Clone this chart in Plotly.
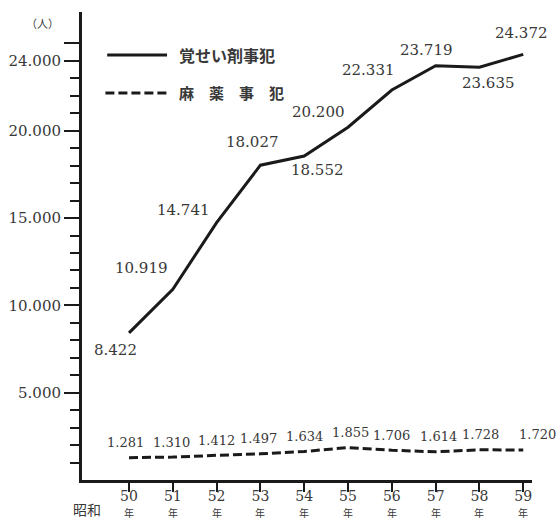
import plotly.graph_objects as go

# ---- data ----
years = [50, 51, 52, 53, 54, 55, 56, 57, 58, 59]
year_labels = ["50", "51", "52", "53", "54", "55", "56", "57", "58", "59"]
year_suffix = "年"
stimulant = [8422, 10919, 14741, 18027, 18552, 20200, 22331, 23719, 23635, 24372]
narcotics = [1281, 1310, 1412, 1497, 1634, 1855, 1706, 1614, 1728, 1720]
series_names = ["覚せい剤事犯", "麻　薬　事　犯"]
y_major = [5000, 10000, 15000, 20000, 24000, 25000]
y_major_text = ["5.000", "10.000", "15.000", "20.000", "24.000", ""]
y_minor = [v for v in range(1000, 26000, 1000) if v not in y_major]

# ---- label offsets (layout only) ----
stim_dx = [-14, -31, -33, -8, 13, -30, -23, -9, 9, -2]
stim_dy = [-17, 21, 13, 23, -14, 15, 20, 16, -16, 21]
narc_dx = [-4, -1, 0, -2, 0, 2, 0, 3, 1, 14]
narc_dy = [15] * 10

def fmt(v):
    return f"{v:,}".replace(",", ".")

INK = "#1a1a1a"
TXT = "#383838"
NUMFONT = "DejaVu Serif"
JPFONT = "Noto Sans CJK JP"

fig = go.Figure()
fig.add_trace(go.Scatter(x=years, y=stimulant, mode="lines", name=series_names[0],
                         line=dict(color=INK, width=3), showlegend=False))
fig.add_trace(go.Scatter(x=years, y=narcotics, mode="lines", name=series_names[1],
                         line=dict(color=INK, width=3, dash="9px,4px"), showlegend=False))

ann = []
for x, v, dx, dy in zip(years, stimulant, stim_dx, stim_dy):
    ann.append(dict(x=x, y=v, xref="x", yref="y", text=fmt(v), showarrow=False,
                    xshift=dx, yshift=dy, font=dict(family=NUMFONT, size=15, color=TXT)))
for x, v, dx, dy in zip(years, narcotics, narc_dx, narc_dy):
    ann.append(dict(x=x, y=v, xref="x", yref="y", text=fmt(v), showarrow=False,
                    xshift=dx, yshift=dy, font=dict(family=NUMFONT, size=13, color=TXT)))

# "年" under each year number
for x in years:
    ann.append(dict(x=x, y=-0.069, xref="x", yref="paper", text=year_suffix, showarrow=False,
                    xanchor="center", yanchor="middle",
                    font=dict(family=JPFONT, size=10, color=TXT)))

# axis units / era label
ann.append(dict(x=-0.087, y=0.977, xref="paper", yref="paper", text="（人）", showarrow=False,
                xanchor="center", yanchor="middle",
                font=dict(family=JPFONT, size=11, color=TXT)))
ann.append(dict(x=0.011, y=-0.062, xref="paper", yref="paper", text="昭和", showarrow=False,
                xanchor="center", yanchor="middle",
                font=dict(family=JPFONT, size=14, color=TXT)))

# legend (drawn)
leg_y = [0.908, 0.827]
ann.append(dict(x=0.211, y=leg_y[0], xref="paper", yref="paper", text="<b>" + series_names[0] + "</b>",
                showarrow=False, xanchor="left", yanchor="middle",
                font=dict(family=JPFONT, size=16, color=TXT)))
ann.append(dict(x=0.211, y=leg_y[1], xref="paper", yref="paper", text="<b>" + series_names[1] + "</b>",
                showarrow=False, xanchor="left", yanchor="middle",
                font=dict(family=JPFONT, size=15, color=TXT)))
shapes = [
    dict(type="line", xref="paper", yref="paper", x0=0.056, x1=0.189, y0=leg_y[0], y1=leg_y[0],
         line=dict(color=INK, width=3)),
    dict(type="line", xref="paper", yref="paper", x0=0.052, x1=0.189, y0=leg_y[1], y1=leg_y[1],
         line=dict(color=INK, width=3, dash="9px,4px")),
]

fig.update_layout(
    width=557, height=519,
    margin=dict(l=82, r=25, t=12, b=39, autoexpand=False),
    paper_bgcolor="white", plot_bgcolor="white",
    annotations=ann, shapes=shapes,
    xaxis=dict(range=[48.927, 59.2], showgrid=False, zeroline=False, automargin=False,
               showline=True, linecolor=INK, linewidth=3,
               ticks="outside", ticklen=9, tickwidth=2, tickcolor=INK,
               tickvals=years, ticktext=year_labels, ticklabelstandoff=-8,
               tickfont=dict(family=NUMFONT, size=14, color=TXT)),
    yaxis=dict(range=[0, 26800], showgrid=False, zeroline=False, automargin=False,
               showline=True, linecolor=INK, linewidth=3,
               ticks="outside", ticklen=15, tickwidth=2, tickcolor=INK,
               tickvals=y_major, ticktext=y_major_text,
               tickfont=dict(family=NUMFONT, size=15, color=TXT),
               minor=dict(tickvals=y_minor, ticks="outside", ticklen=9, tickwidth=2,
                          tickcolor=INK, showgrid=False)),
)

fig.write_html("out.html", config={"displayModeBar": False},
               post_script="document.body.style.margin='0';document.body.style.overflow='hidden';")
